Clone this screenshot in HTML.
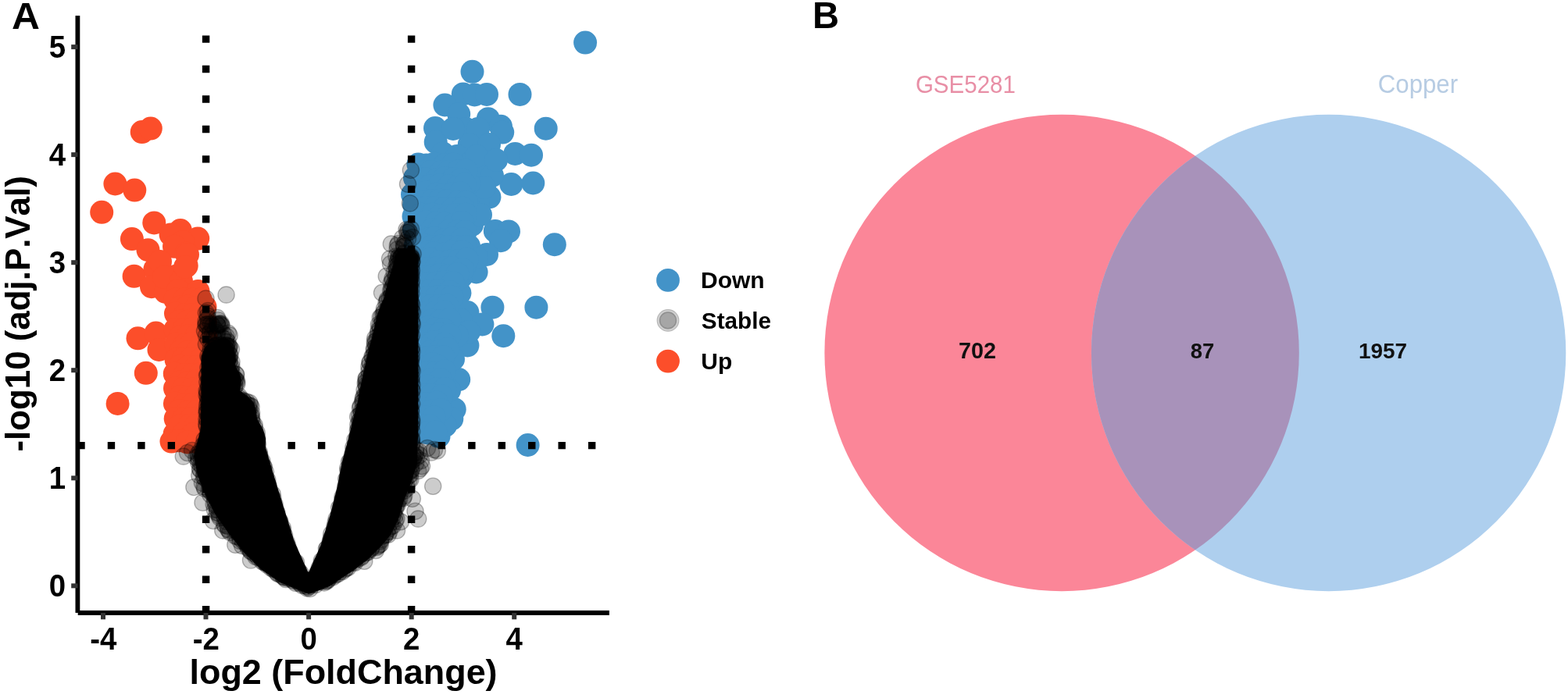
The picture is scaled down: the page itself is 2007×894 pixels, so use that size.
<!DOCTYPE html>
<html lang="en"><head><meta charset="utf-8"><title>Figure</title>
<style>html,body{margin:0;padding:0;background:#fff;overflow:hidden}svg{display:block}</style>
</head><body>
<svg width="2007" height="894" viewBox="0 0 2007 894" font-family="'Liberation Sans', sans-serif" style="font-kerning:none">
<rect width="2007" height="894" fill="#fff"/>
<defs><clipPath id="cl"><ellipse cx="1359.1" cy="452" rx="303.7" ry="305.2"/></clipPath></defs>
<ellipse cx="1359.1" cy="452" rx="303.7" ry="305.2" fill="#FB8698"/>
<ellipse cx="1700.6" cy="452" rx="303.7" ry="305.2" fill="#AECFEE"/>
<ellipse cx="1700.6" cy="452" rx="303.7" ry="305.2" fill="#A892BA" clip-path="url(#cl)"/>
<text transform="translate(1171.92 119.40) scale(1.0000 1.0500)" font-size="29.52" fill="#E88FA6">GSE5281</text>
<text transform="translate(1763.82 119.20) scale(1.0000 1.0500)" font-size="31.19" fill="#B7CCE3">Copper</text>
<text transform="translate(1226.96 458.60) scale(1.0000 1.0000)" font-size="28.76" font-weight="bold" fill="#111">702</text>
<text transform="translate(1523.73 458.60) scale(1.0000 1.0000)" font-size="27.49" font-weight="bold" fill="#111">87</text>
<text transform="translate(1739.04 458.60) scale(1.0000 1.0000)" font-size="27.91" font-weight="bold" fill="#111">1957</text>
<g fill="#FC4E2A">
<circle cx="181.7" cy="169.1" r="15"/>
<circle cx="192.8" cy="164.6" r="15"/>
<circle cx="147.4" cy="235.5" r="15"/>
<circle cx="172.3" cy="243.6" r="15"/>
<circle cx="130.2" cy="271.8" r="15"/>
<circle cx="197.3" cy="285.4" r="15"/>
<circle cx="168.9" cy="306.1" r="15"/>
<circle cx="230.9" cy="295" r="15"/>
<circle cx="218.6" cy="300.5" r="15"/>
<circle cx="253.2" cy="305.6" r="15"/>
<circle cx="234" cy="310" r="15"/>
<circle cx="189.5" cy="320.2" r="15"/>
<circle cx="223" cy="315.8" r="15"/>
<circle cx="238.7" cy="324.7" r="15"/>
<circle cx="171.6" cy="353.8" r="15"/>
<circle cx="198.4" cy="344.9" r="15"/>
<circle cx="238.7" cy="340.4" r="15"/>
<circle cx="194" cy="367.2" r="15"/>
<circle cx="225.3" cy="353.8" r="15"/>
<circle cx="211.9" cy="374" r="15"/>
<circle cx="176.5" cy="433.3" r="15"/>
<circle cx="199.6" cy="426.5" r="15"/>
<circle cx="203.5" cy="447.9" r="15"/>
<circle cx="186.8" cy="477.8" r="15"/>
<circle cx="150.6" cy="516.9" r="15"/>
<circle cx="205" cy="335" r="15"/>
<circle cx="210" cy="355" r="15"/>
<circle cx="240" cy="326" r="15"/>
<circle cx="232" cy="360" r="15"/>
<circle cx="228" cy="372" r="15"/>
<circle cx="262.5" cy="393" r="15"/>
<circle cx="237" cy="342" r="15"/>
<circle cx="253.5" cy="373" r="15"/>
<circle cx="224.4" cy="383.7" r="15"/>
<circle cx="236.5" cy="383.5" r="15"/>
<circle cx="246.5" cy="383.8" r="15"/>
<circle cx="256.7" cy="383.6" r="15"/>
<circle cx="230.3" cy="393.8" r="15"/>
<circle cx="240" cy="392.7" r="15"/>
<circle cx="251" cy="393.9" r="15"/>
<circle cx="225" cy="401.6" r="15"/>
<circle cx="236.7" cy="403.8" r="15"/>
<circle cx="246.9" cy="403" r="15"/>
<circle cx="256.7" cy="401.5" r="15"/>
<circle cx="230.1" cy="411.2" r="15"/>
<circle cx="240.3" cy="411.7" r="15"/>
<circle cx="250.9" cy="412.2" r="15"/>
<circle cx="262.9" cy="413.1" r="15"/>
<circle cx="224.5" cy="422.2" r="15"/>
<circle cx="235.5" cy="422.2" r="15"/>
<circle cx="246.4" cy="421.3" r="15"/>
<circle cx="258.7" cy="423" r="15"/>
<circle cx="230.8" cy="431.9" r="15"/>
<circle cx="240.6" cy="430.8" r="15"/>
<circle cx="251.5" cy="430.4" r="15"/>
<circle cx="263.6" cy="431.2" r="15"/>
<circle cx="225.3" cy="440.7" r="15"/>
<circle cx="236.6" cy="441.8" r="15"/>
<circle cx="245.3" cy="440.3" r="15"/>
<circle cx="258.5" cy="440.9" r="15"/>
<circle cx="231.2" cy="450.3" r="15"/>
<circle cx="240" cy="450.9" r="15"/>
<circle cx="252.7" cy="450" r="15"/>
<circle cx="262" cy="450.2" r="15"/>
<circle cx="225.6" cy="460.7" r="15"/>
<circle cx="234.6" cy="459.5" r="15"/>
<circle cx="245.5" cy="459.1" r="15"/>
<circle cx="258.2" cy="459.4" r="15"/>
<circle cx="230.1" cy="469.6" r="15"/>
<circle cx="240.3" cy="470.3" r="15"/>
<circle cx="251.1" cy="470" r="15"/>
<circle cx="262.1" cy="469.5" r="15"/>
<circle cx="223.8" cy="478.7" r="15"/>
<circle cx="236.6" cy="480" r="15"/>
<circle cx="246" cy="480.2" r="15"/>
<circle cx="256.8" cy="479" r="15"/>
<circle cx="230.9" cy="489.2" r="15"/>
<circle cx="240" cy="490" r="15"/>
<circle cx="251.3" cy="488.3" r="15"/>
<circle cx="263.7" cy="488.4" r="15"/>
<circle cx="224" cy="497.4" r="15"/>
<circle cx="234.5" cy="498.6" r="15"/>
<circle cx="245.9" cy="498.7" r="15"/>
<circle cx="257.2" cy="498.3" r="15"/>
<circle cx="231.1" cy="507.9" r="15"/>
<circle cx="241.2" cy="508.9" r="15"/>
<circle cx="251.2" cy="507.1" r="15"/>
<circle cx="264" cy="508.7" r="15"/>
<circle cx="223.9" cy="516.8" r="15"/>
<circle cx="236.1" cy="518.6" r="15"/>
<circle cx="245.8" cy="518.6" r="15"/>
<circle cx="258.4" cy="517.8" r="15"/>
<circle cx="229.8" cy="526.2" r="15"/>
<circle cx="239.9" cy="528.2" r="15"/>
<circle cx="251.4" cy="527.6" r="15"/>
<circle cx="262.4" cy="527.9" r="15"/>
<circle cx="224.7" cy="536.2" r="15"/>
<circle cx="234.7" cy="537.2" r="15"/>
<circle cx="245.5" cy="536" r="15"/>
<circle cx="257.6" cy="537.5" r="15"/>
<circle cx="230.3" cy="545.7" r="15"/>
<circle cx="242" cy="545.5" r="15"/>
<circle cx="250.8" cy="545.7" r="15"/>
<circle cx="262.9" cy="545.2" r="15"/>
<circle cx="223.7" cy="555.5" r="15"/>
<circle cx="235.7" cy="554.9" r="15"/>
<circle cx="246.2" cy="556.8" r="15"/>
<circle cx="258.7" cy="556.2" r="15"/>
<circle cx="219.5" cy="565.6" r="15"/>
<circle cx="229.1" cy="564.3" r="15"/>
<circle cx="239.8" cy="566.4" r="15"/>
<circle cx="252.5" cy="566.5" r="15"/>
<circle cx="261.9" cy="565.7" r="15"/>
</g>
<g fill="#4393C8">
<circle cx="749.1" cy="54.6" r="15"/>
<circle cx="604.5" cy="91.8" r="15"/>
<circle cx="665.5" cy="120.9" r="15"/>
<circle cx="592.8" cy="120.4" r="15"/>
<circle cx="607.4" cy="121.5" r="15"/>
<circle cx="623" cy="120.9" r="15"/>
<circle cx="569.4" cy="134.5" r="15"/>
<circle cx="587.2" cy="146.1" r="15"/>
<circle cx="624.8" cy="152.2" r="15"/>
<circle cx="640.9" cy="161.8" r="15"/>
<circle cx="557" cy="164" r="15"/>
<circle cx="596.2" cy="165.1" r="15"/>
<circle cx="611.9" cy="165" r="15"/>
<circle cx="698.7" cy="164.7" r="15"/>
<circle cx="643.2" cy="169.6" r="15"/>
<circle cx="557.7" cy="181.9" r="15"/>
<circle cx="600.7" cy="185.3" r="15"/>
<circle cx="626" cy="185" r="15"/>
<circle cx="659.3" cy="196.9" r="15"/>
<circle cx="680" cy="198.7" r="15"/>
<circle cx="567" cy="196.5" r="15"/>
<circle cx="540" cy="214" r="15"/>
<circle cx="654.4" cy="236" r="15"/>
<circle cx="682.3" cy="234.5" r="15"/>
<circle cx="709.8" cy="313.2" r="15"/>
<circle cx="633.8" cy="295.9" r="15"/>
<circle cx="651" cy="296.4" r="15"/>
<circle cx="641" cy="308.2" r="15"/>
<circle cx="626.4" cy="252.3" r="15"/>
<circle cx="611.9" cy="260" r="15"/>
<circle cx="604" cy="288" r="15"/>
<circle cx="623" cy="326" r="15"/>
<circle cx="609.6" cy="348.5" r="15"/>
<circle cx="588.4" cy="375.3" r="15"/>
<circle cx="630.4" cy="393.7" r="15"/>
<circle cx="686.4" cy="393.7" r="15"/>
<circle cx="598.4" cy="400" r="15"/>
<circle cx="617.4" cy="415.5" r="15"/>
<circle cx="644.3" cy="430.2" r="15"/>
<circle cx="598.4" cy="442.5" r="15"/>
<circle cx="587.2" cy="486.1" r="15"/>
<circle cx="581.7" cy="524.2" r="15"/>
<circle cx="578.3" cy="536.5" r="15"/>
<circle cx="561.5" cy="558.8" r="15"/>
<circle cx="675.6" cy="570" r="15"/>
<circle cx="580" cy="165" r="15"/>
<circle cx="585" cy="200" r="15"/>
<circle cx="600" cy="210" r="15"/>
<circle cx="615" cy="215" r="15"/>
<circle cx="630" cy="225" r="15"/>
<circle cx="620" cy="240" r="15"/>
<circle cx="600" cy="235" r="15"/>
<circle cx="580" cy="225" r="15"/>
<circle cx="610" cy="200" r="15"/>
<circle cx="635" cy="205" r="15"/>
<circle cx="590" cy="250" r="15"/>
<circle cx="600" cy="265" r="15"/>
<circle cx="615" cy="275" r="15"/>
<circle cx="590" cy="300" r="15"/>
<circle cx="600" cy="315" r="15"/>
<circle cx="610" cy="330" r="15"/>
<circle cx="595" cy="340" r="15"/>
<circle cx="590" cy="355" r="15"/>
<circle cx="590" cy="410" r="15"/>
<circle cx="600" cy="425" r="15"/>
<circle cx="585" cy="430" r="15"/>
<circle cx="580" cy="460" r="15"/>
<circle cx="575" cy="500" r="15"/>
<circle cx="570" cy="545" r="15"/>
<circle cx="528" cy="249" r="15"/>
<circle cx="529.5" cy="277" r="15"/>
<circle cx="531" cy="228" r="15"/>
<circle cx="530" cy="262" r="15"/>
<circle cx="535.4" cy="210.5" r="15"/>
<circle cx="545.8" cy="211.6" r="15"/>
<circle cx="555.8" cy="209.8" r="15"/>
<circle cx="569.4" cy="211.2" r="15"/>
<circle cx="580.4" cy="210.4" r="15"/>
<circle cx="542.2" cy="220.8" r="15"/>
<circle cx="551.4" cy="219.9" r="15"/>
<circle cx="564.6" cy="220.6" r="15"/>
<circle cx="573.7" cy="220.3" r="15"/>
<circle cx="586.5" cy="219.4" r="15"/>
<circle cx="596.5" cy="218.7" r="15"/>
<circle cx="535.8" cy="229.1" r="15"/>
<circle cx="544.8" cy="229.3" r="15"/>
<circle cx="559.5" cy="230.2" r="15"/>
<circle cx="569.4" cy="228.3" r="15"/>
<circle cx="580.4" cy="229" r="15"/>
<circle cx="590.3" cy="230.1" r="15"/>
<circle cx="539.3" cy="239.3" r="15"/>
<circle cx="550.1" cy="238.7" r="15"/>
<circle cx="562.9" cy="237.2" r="15"/>
<circle cx="574.8" cy="238.3" r="15"/>
<circle cx="585.5" cy="240" r="15"/>
<circle cx="595" cy="236.3" r="15"/>
<circle cx="534.7" cy="248.6" r="15"/>
<circle cx="545.3" cy="246.5" r="15"/>
<circle cx="559.1" cy="248.5" r="15"/>
<circle cx="568.3" cy="249.4" r="15"/>
<circle cx="578.8" cy="248.5" r="15"/>
<circle cx="589.3" cy="247.6" r="15"/>
<circle cx="542.2" cy="259.1" r="15"/>
<circle cx="553.5" cy="257" r="15"/>
<circle cx="563.3" cy="256.7" r="15"/>
<circle cx="572.5" cy="257.4" r="15"/>
<circle cx="586.3" cy="258.8" r="15"/>
<circle cx="596.8" cy="259.2" r="15"/>
<circle cx="534.6" cy="265.7" r="15"/>
<circle cx="546.3" cy="266.1" r="15"/>
<circle cx="556.4" cy="266.6" r="15"/>
<circle cx="569" cy="267" r="15"/>
<circle cx="578.8" cy="268.3" r="15"/>
<circle cx="592.4" cy="266.8" r="15"/>
<circle cx="539.3" cy="274.7" r="15"/>
<circle cx="553.5" cy="274.7" r="15"/>
<circle cx="563.8" cy="276.8" r="15"/>
<circle cx="573.2" cy="277.7" r="15"/>
<circle cx="583.1" cy="275.1" r="15"/>
<circle cx="595.8" cy="274.7" r="15"/>
<circle cx="536.8" cy="285.1" r="15"/>
<circle cx="545.1" cy="284.3" r="15"/>
<circle cx="558" cy="285.9" r="15"/>
<circle cx="569" cy="286.8" r="15"/>
<circle cx="580.7" cy="288" r="15"/>
<circle cx="591.2" cy="284.9" r="15"/>
<circle cx="529.9" cy="294.4" r="15"/>
<circle cx="539" cy="295.6" r="15"/>
<circle cx="552.9" cy="294.4" r="15"/>
<circle cx="562.1" cy="295.1" r="15"/>
<circle cx="574.8" cy="295.8" r="15"/>
<circle cx="585.5" cy="296.7" r="15"/>
<circle cx="595.6" cy="296.9" r="15"/>
<circle cx="537.1" cy="303.6" r="15"/>
<circle cx="548.2" cy="306.2" r="15"/>
<circle cx="556" cy="305.1" r="15"/>
<circle cx="569" cy="306.9" r="15"/>
<circle cx="579" cy="305.5" r="15"/>
<circle cx="592" cy="306.5" r="15"/>
<circle cx="531.8" cy="314.7" r="15"/>
<circle cx="541.6" cy="313.7" r="15"/>
<circle cx="552.9" cy="316.1" r="15"/>
<circle cx="563.6" cy="315.7" r="15"/>
<circle cx="572.9" cy="316.4" r="15"/>
<circle cx="586.9" cy="316.7" r="15"/>
<circle cx="596.1" cy="316" r="15"/>
<circle cx="534.8" cy="326" r="15"/>
<circle cx="547.9" cy="323.8" r="15"/>
<circle cx="555.8" cy="324.2" r="15"/>
<circle cx="568.7" cy="325.5" r="15"/>
<circle cx="579.4" cy="322.5" r="15"/>
<circle cx="591.7" cy="322.7" r="15"/>
<circle cx="531.2" cy="332.7" r="15"/>
<circle cx="540.3" cy="335.1" r="15"/>
<circle cx="550.6" cy="332.6" r="15"/>
<circle cx="563.1" cy="334.9" r="15"/>
<circle cx="575.4" cy="334.7" r="15"/>
<circle cx="586.8" cy="334" r="15"/>
<circle cx="597.8" cy="332.3" r="15"/>
<circle cx="534.4" cy="343.7" r="15"/>
<circle cx="545.7" cy="344.5" r="15"/>
<circle cx="558.1" cy="343.6" r="15"/>
<circle cx="569.9" cy="343.8" r="15"/>
<circle cx="578.7" cy="343.1" r="15"/>
<circle cx="591.9" cy="345.2" r="15"/>
<circle cx="539.8" cy="354.5" r="15"/>
<circle cx="553.9" cy="353.2" r="15"/>
<circle cx="563.3" cy="351.9" r="15"/>
<circle cx="574.1" cy="353.1" r="15"/>
<circle cx="585.4" cy="351.2" r="15"/>
<circle cx="537.4" cy="362.8" r="15"/>
<circle cx="546.1" cy="363.9" r="15"/>
<circle cx="557.8" cy="362.7" r="15"/>
<circle cx="569.3" cy="361" r="15"/>
<circle cx="579.7" cy="362.3" r="15"/>
<circle cx="542.8" cy="374" r="15"/>
<circle cx="551.1" cy="372.2" r="15"/>
<circle cx="561.5" cy="372" r="15"/>
<circle cx="575.3" cy="373.9" r="15"/>
<circle cx="535.4" cy="381.1" r="15"/>
<circle cx="545.3" cy="382.3" r="15"/>
<circle cx="559.2" cy="380.3" r="15"/>
<circle cx="569.6" cy="379.9" r="15"/>
<circle cx="578.3" cy="380.7" r="15"/>
<circle cx="541.7" cy="390.7" r="15"/>
<circle cx="551.4" cy="391.9" r="15"/>
<circle cx="561.4" cy="392.3" r="15"/>
<circle cx="572.5" cy="391.4" r="15"/>
<circle cx="534.5" cy="399.8" r="15"/>
<circle cx="546.6" cy="400.7" r="15"/>
<circle cx="557" cy="400.6" r="15"/>
<circle cx="568.6" cy="399.6" r="15"/>
<circle cx="539.8" cy="411.1" r="15"/>
<circle cx="552.6" cy="410.7" r="15"/>
<circle cx="564.4" cy="411" r="15"/>
<circle cx="575.4" cy="409.5" r="15"/>
<circle cx="536.5" cy="421.4" r="15"/>
<circle cx="548.1" cy="419.4" r="15"/>
<circle cx="556.8" cy="421.8" r="15"/>
<circle cx="567.4" cy="422.1" r="15"/>
<circle cx="542.6" cy="428.2" r="15"/>
<circle cx="551" cy="430.6" r="15"/>
<circle cx="562" cy="428.1" r="15"/>
<circle cx="575.3" cy="429.4" r="15"/>
<circle cx="536.7" cy="437.8" r="15"/>
<circle cx="546.1" cy="440" r="15"/>
<circle cx="555.6" cy="438.1" r="15"/>
<circle cx="569.2" cy="440.9" r="15"/>
<circle cx="542.9" cy="447.3" r="15"/>
<circle cx="552" cy="449.9" r="15"/>
<circle cx="563" cy="449.6" r="15"/>
<circle cx="572.8" cy="447.1" r="15"/>
<circle cx="533.9" cy="456.5" r="15"/>
<circle cx="546.7" cy="458.4" r="15"/>
<circle cx="557.8" cy="457" r="15"/>
<circle cx="567.2" cy="457.2" r="15"/>
<circle cx="542.4" cy="469.9" r="15"/>
<circle cx="553.7" cy="466.3" r="15"/>
<circle cx="561.2" cy="469.8" r="15"/>
<circle cx="535.3" cy="478.6" r="15"/>
<circle cx="545.8" cy="477.4" r="15"/>
<circle cx="557.6" cy="477.3" r="15"/>
<circle cx="568.9" cy="475.6" r="15"/>
<circle cx="541.8" cy="488.5" r="15"/>
<circle cx="550.7" cy="486.9" r="15"/>
<circle cx="564" cy="486.7" r="15"/>
<circle cx="534.3" cy="495.3" r="15"/>
<circle cx="546.6" cy="494.7" r="15"/>
<circle cx="559.1" cy="497.9" r="15"/>
<circle cx="569.3" cy="498.1" r="15"/>
<circle cx="541.5" cy="505.9" r="15"/>
<circle cx="552.4" cy="506.3" r="15"/>
<circle cx="564.9" cy="507.5" r="15"/>
<circle cx="534.5" cy="517.5" r="15"/>
<circle cx="547.5" cy="516.9" r="15"/>
<circle cx="558.8" cy="515.4" r="15"/>
<circle cx="542.6" cy="526.9" r="15"/>
<circle cx="552.8" cy="526.4" r="15"/>
<circle cx="564.1" cy="525" r="15"/>
<circle cx="536.4" cy="533.2" r="15"/>
<circle cx="545.9" cy="534.8" r="15"/>
<circle cx="555.5" cy="534.4" r="15"/>
<circle cx="541.6" cy="545" r="15"/>
<circle cx="550.9" cy="546.3" r="15"/>
<circle cx="536.2" cy="553.4" r="15"/>
<circle cx="547.1" cy="554.4" r="15"/>
<circle cx="557.6" cy="553.6" r="15"/>
</g>
<path d="M258 456.2 L257 550 L257 550.1 L257 550.2 L257 550.3 L253 565.2 L248.2 584.6 L253 608.7 L262.9 633.4 L275.1 657.9 L292.3 682.4 L311.7 707 L333.9 729 L358.5 746.1 L382.9 756.1 L395 760.7 L421.5 751.1 L450.9 731.5 L470.5 716.7 L487.8 699.6 L500 685 L509.7 665.4 L517 640.9 L517.1 640.8 L526.9 616.3 L534.2 591.9 L534.2 572.3 L534.2 572.2 L535 560 L535 326.4 L529.6 321 L512.4 321 L506.9 326.5 L503 340.3 L503 340.3 L497 359.3 L492 380.2 L492 380.3 L491.9 380.4 L483 402.3 L478 425.2 L478 425.3 L472 447.2 L467 470.2 L467 470.2 L462 492.2 L458 514.2 L458 514.3 L452 537.2 L445 565.2 L445 565.3 L437.8 592.2 L431.6 624.2 L431.6 624.2 L423 658.6 L423 658.7 L410.7 698.1 L410.6 698.2 L395.7 731.9 L395.7 732 L395.6 732.1 L395.6 732.2 L395.5 732.2 L395.4 732.3 L395.3 732.4 L395.2 732.4 L395.1 732.4 L395 732.5 L395 732.5 L394.9 732.5 L394.8 732.5 L394.7 732.5 L394.6 732.5 L394.5 732.4 L394.4 732.4 L394.3 732.4 L394.2 732.3 L394.1 732.2 L394 732.2 L394 732.1 L393.9 732 L393.9 731.9 L376.7 693.4 L376.6 693.3 L364.3 653.8 L364.3 653.8 L354.4 621.8 L354.4 621.8 L347 597.3 L347 597.3 L339.7 572.3 L339.7 572.2 L339.7 572.1 L339.7 572 L340 562.1 L337.1 550.4 L329.3 537.5 L329.3 537.4 L329.3 537.3 L329.2 537.2 L329.2 537.1 L327.7 526.2 L324.6 515.5 L317 507.8 L307.7 500.8 L307.6 500.7 L307.6 500.7 L307.5 500.6 L307.4 500.5 L307.4 500.4 L307.4 500.3 L307.3 500.3 L307.3 500.2 L307.3 500.1 L307.3 500 L307.3 499.9 L309 487.1 L307.1 480.3 L301.1 467.4 L301.1 467.3 L301 467.2 L301 467.2 L301 467.1 L301 467 L301 466.9 L301 466.8 L301 466.7 L302.6 462 L300 450.3 L295.3 440.8 L284.8 436 L270.4 438 L262.8 444.6Z" fill="#000"/>
<g fill="#000" fill-opacity="0.2" stroke="#000" stroke-opacity="0.28" stroke-width="1.3">
<circle cx="328.8" cy="554.3" r="10.6"/>
<circle cx="329.3" cy="560.5" r="10.6"/>
<circle cx="329.3" cy="564" r="10.6"/>
<circle cx="330" cy="569" r="10.6"/>
<circle cx="331.9" cy="579.1" r="10.6"/>
<circle cx="332.4" cy="583.2" r="10.6"/>
<circle cx="335.4" cy="590.3" r="10.6"/>
<circle cx="337.3" cy="597" r="10.6"/>
<circle cx="338" cy="598.7" r="10.6"/>
<circle cx="340" cy="604.6" r="10.6"/>
<circle cx="342.4" cy="614.6" r="10.6"/>
<circle cx="343.5" cy="621.4" r="10.6"/>
<circle cx="343.2" cy="622.5" r="10.6"/>
<circle cx="348.7" cy="632.8" r="10.6"/>
<circle cx="349.6" cy="638.5" r="10.6"/>
<circle cx="349.3" cy="642.2" r="10.6"/>
<circle cx="351.7" cy="646.3" r="10.6"/>
<circle cx="354.3" cy="656.1" r="10.6"/>
<circle cx="354.6" cy="659.4" r="10.6"/>
<circle cx="357.9" cy="666.8" r="10.6"/>
<circle cx="358.4" cy="668.5" r="10.6"/>
<circle cx="361.8" cy="675.9" r="10.6"/>
<circle cx="362.1" cy="679.6" r="10.6"/>
<circle cx="364.2" cy="685.6" r="10.6"/>
<circle cx="366.9" cy="694.5" r="10.6"/>
<circle cx="368.3" cy="699.1" r="10.6"/>
<circle cx="370.7" cy="705.7" r="10.6"/>
<circle cx="372.9" cy="712" r="10.6"/>
<circle cx="377" cy="719.5" r="10.6"/>
<circle cx="379.1" cy="720.4" r="10.6"/>
<circle cx="381.7" cy="730.2" r="10.6"/>
<circle cx="384.4" cy="733.8" r="10.6"/>
<circle cx="405.7" cy="734.5" r="10.6"/>
<circle cx="408.7" cy="727.3" r="10.6"/>
<circle cx="411.6" cy="721.6" r="10.6"/>
<circle cx="411.8" cy="718" r="10.6"/>
<circle cx="417.7" cy="708.9" r="10.6"/>
<circle cx="417.9" cy="703" r="10.6"/>
<circle cx="418.9" cy="702.1" r="10.6"/>
<circle cx="422.6" cy="693.7" r="10.6"/>
<circle cx="423.6" cy="689.7" r="10.6"/>
<circle cx="424.2" cy="683.8" r="10.6"/>
<circle cx="428.2" cy="675" r="10.6"/>
<circle cx="429.5" cy="669.4" r="10.6"/>
<circle cx="430.6" cy="664.4" r="10.6"/>
<circle cx="433.5" cy="659.2" r="10.6"/>
<circle cx="434.1" cy="650.1" r="10.6"/>
<circle cx="436.3" cy="648.9" r="10.6"/>
<circle cx="438.3" cy="640.1" r="10.6"/>
<circle cx="438.4" cy="636.5" r="10.6"/>
<circle cx="440.8" cy="630.6" r="10.6"/>
<circle cx="442" cy="623.5" r="10.6"/>
<circle cx="443.1" cy="613.8" r="10.6"/>
<circle cx="444.8" cy="610.7" r="10.6"/>
<circle cx="445.5" cy="602.4" r="10.6"/>
<circle cx="445.2" cy="599.6" r="10.6"/>
<circle cx="447" cy="591.5" r="10.6"/>
<circle cx="448.5" cy="590.6" r="10.6"/>
<circle cx="450.9" cy="582.5" r="10.6"/>
<circle cx="452.4" cy="577.8" r="10.6"/>
<circle cx="452.3" cy="573" r="10.6"/>
<circle cx="454.4" cy="563.5" r="10.6"/>
<circle cx="456.9" cy="560.2" r="10.6"/>
<circle cx="457.8" cy="551.8" r="10.6"/>
<circle cx="458.6" cy="549.3" r="10.6"/>
<circle cx="475.3" cy="701.5" r="10.6"/>
<circle cx="474.7" cy="703" r="10.6"/>
<circle cx="471" cy="704.9" r="10.6"/>
<circle cx="470.8" cy="707.2" r="10.6"/>
<circle cx="468.1" cy="708.3" r="10.6"/>
<circle cx="463.4" cy="708.8" r="10.6"/>
<circle cx="463.3" cy="712.5" r="10.6"/>
<circle cx="462.1" cy="714.1" r="10.6"/>
<circle cx="457.7" cy="716.2" r="10.6"/>
<circle cx="454.8" cy="716.4" r="10.6"/>
<circle cx="453.9" cy="721" r="10.6"/>
<circle cx="451.9" cy="720.4" r="10.6"/>
<circle cx="448.8" cy="720" r="10.6"/>
<circle cx="446.1" cy="722.6" r="10.6"/>
<circle cx="445.4" cy="727" r="10.6"/>
<circle cx="442.8" cy="727.8" r="10.6"/>
<circle cx="441.4" cy="729.2" r="10.6"/>
<circle cx="437.8" cy="732.2" r="10.6"/>
<circle cx="435.1" cy="732" r="10.6"/>
<circle cx="432.7" cy="735.1" r="10.6"/>
<circle cx="429.5" cy="736.6" r="10.6"/>
<circle cx="425.9" cy="736.7" r="10.6"/>
<circle cx="426" cy="739.2" r="10.6"/>
<circle cx="421.9" cy="739.2" r="10.6"/>
<circle cx="420" cy="742.3" r="10.6"/>
<circle cx="418.5" cy="744.2" r="10.6"/>
<circle cx="417.1" cy="744.2" r="10.6"/>
<circle cx="414.9" cy="746.4" r="10.6"/>
<circle cx="411.8" cy="744.7" r="10.6"/>
<circle cx="407.1" cy="745.5" r="10.6"/>
<circle cx="403.9" cy="749.1" r="10.6"/>
<circle cx="401" cy="747.2" r="10.6"/>
<circle cx="399.8" cy="748.8" r="10.6"/>
<circle cx="395.3" cy="749.1" r="10.6"/>
<circle cx="393.1" cy="753.4" r="10.6"/>
<circle cx="396.7" cy="754" r="10.6"/>
<circle cx="394.9" cy="751.8" r="10.6"/>
<circle cx="393.1" cy="751.2" r="10.6"/>
<circle cx="389.8" cy="749.4" r="10.6"/>
<circle cx="386.6" cy="749.8" r="10.6"/>
<circle cx="384.1" cy="747.3" r="10.6"/>
<circle cx="382.3" cy="745.6" r="10.6"/>
<circle cx="378.4" cy="746.8" r="10.6"/>
<circle cx="375.9" cy="744.1" r="10.6"/>
<circle cx="373.9" cy="742.6" r="10.6"/>
<circle cx="369.5" cy="740.9" r="10.6"/>
<circle cx="365.9" cy="742" r="10.6"/>
<circle cx="364.5" cy="739.8" r="10.6"/>
<circle cx="362.7" cy="738.9" r="10.6"/>
<circle cx="362.2" cy="738.1" r="10.6"/>
<circle cx="358.4" cy="735.5" r="10.6"/>
<circle cx="356" cy="735.1" r="10.6"/>
<circle cx="354.5" cy="733.5" r="10.6"/>
<circle cx="350.5" cy="729.5" r="10.6"/>
<circle cx="349.8" cy="728.5" r="10.6"/>
<circle cx="347" cy="727.6" r="10.6"/>
<circle cx="344.8" cy="723.4" r="10.6"/>
<circle cx="341.9" cy="723.5" r="10.6"/>
<circle cx="340.1" cy="721.1" r="10.6"/>
<circle cx="338.2" cy="720.2" r="10.6"/>
<circle cx="335.9" cy="719.2" r="10.6"/>
<circle cx="335.4" cy="716" r="10.6"/>
<circle cx="330.5" cy="714.1" r="10.6"/>
<circle cx="327.2" cy="713" r="10.6"/>
<circle cx="328.2" cy="711" r="10.6"/>
<circle cx="325.3" cy="709" r="10.6"/>
<circle cx="321.1" cy="706.2" r="10.6"/>
<circle cx="320.8" cy="705.5" r="10.6"/>
<circle cx="317.7" cy="702.3" r="10.6"/>
<circle cx="318.8" cy="701.5" r="10.6"/>
<circle cx="532.3" cy="576.1" r="10.6"/>
<circle cx="532.2" cy="579.7" r="10.6"/>
<circle cx="528" cy="581.5" r="10.6"/>
<circle cx="530.8" cy="583.7" r="10.6"/>
<circle cx="529.5" cy="585.5" r="10.6"/>
<circle cx="528.6" cy="588.7" r="10.6"/>
<circle cx="526.3" cy="591.1" r="10.6"/>
<circle cx="532.1" cy="593.5" r="10.6"/>
<circle cx="523.6" cy="593.5" r="10.6"/>
<circle cx="526.2" cy="595.9" r="10.6"/>
<circle cx="526.5" cy="601.3" r="10.6"/>
<circle cx="526" cy="602.9" r="10.6"/>
<circle cx="523.6" cy="604" r="10.6"/>
<circle cx="525" cy="608" r="10.6"/>
<circle cx="522.7" cy="609.7" r="10.6"/>
<circle cx="525.5" cy="614" r="10.6"/>
<circle cx="523.6" cy="614.3" r="10.6"/>
<circle cx="518.4" cy="615.1" r="10.6"/>
<circle cx="516.8" cy="617.7" r="10.6"/>
<circle cx="520.4" cy="621.9" r="10.6"/>
<circle cx="520.7" cy="625.6" r="10.6"/>
<circle cx="513.6" cy="626.4" r="10.6"/>
<circle cx="517.3" cy="628.8" r="10.6"/>
<circle cx="512.2" cy="631" r="10.6"/>
<circle cx="517.2" cy="635.3" r="10.6"/>
<circle cx="516.1" cy="638" r="10.6"/>
<circle cx="511.2" cy="639" r="10.6"/>
<circle cx="509.4" cy="642.1" r="10.6"/>
<circle cx="507" cy="641.6" r="10.6"/>
<circle cx="508.6" cy="646.8" r="10.6"/>
<circle cx="507.1" cy="647" r="10.6"/>
<circle cx="506.5" cy="650.7" r="10.6"/>
<circle cx="503.4" cy="654" r="10.6"/>
<circle cx="504.4" cy="654.6" r="10.6"/>
<circle cx="503.7" cy="658" r="10.6"/>
<circle cx="505.4" cy="661.1" r="10.6"/>
<circle cx="507.4" cy="664.3" r="10.6"/>
<circle cx="501.9" cy="663.8" r="10.6"/>
<circle cx="505.7" cy="667.8" r="10.6"/>
<circle cx="499.5" cy="669.9" r="10.6"/>
<circle cx="502.8" cy="673.6" r="10.6"/>
<circle cx="500.7" cy="674.2" r="10.6"/>
<circle cx="496.7" cy="677.5" r="10.6"/>
<circle cx="498.2" cy="681.1" r="10.6"/>
<circle cx="495.1" cy="681" r="10.6"/>
<circle cx="496.7" cy="684.9" r="10.6"/>
<circle cx="492.7" cy="685.1" r="10.6"/>
<circle cx="492.7" cy="685.6" r="10.6"/>
<circle cx="488.8" cy="687" r="10.6"/>
<circle cx="487.4" cy="691.1" r="10.6"/>
<circle cx="486.9" cy="693.2" r="10.6"/>
<circle cx="486.9" cy="696.9" r="10.6"/>
<circle cx="485.1" cy="698.2" r="10.6"/>
<circle cx="483.3" cy="699.5" r="10.6"/>
<circle cx="482.1" cy="701.1" r="10.6"/>
<circle cx="316.3" cy="697.8" r="10.6"/>
<circle cx="310.1" cy="699" r="10.6"/>
<circle cx="314.2" cy="694.8" r="10.6"/>
<circle cx="311.1" cy="692.9" r="10.6"/>
<circle cx="307.4" cy="692.9" r="10.6"/>
<circle cx="307.4" cy="689.1" r="10.6"/>
<circle cx="303.4" cy="687.1" r="10.6"/>
<circle cx="301.4" cy="686.7" r="10.6"/>
<circle cx="304.3" cy="682.1" r="10.6"/>
<circle cx="302.8" cy="680.4" r="10.6"/>
<circle cx="294.5" cy="681.8" r="10.6"/>
<circle cx="292.9" cy="679.2" r="10.6"/>
<circle cx="292.1" cy="677.7" r="10.6"/>
<circle cx="291.3" cy="673.7" r="10.6"/>
<circle cx="288.2" cy="673.1" r="10.6"/>
<circle cx="287.1" cy="671.4" r="10.6"/>
<circle cx="290" cy="668.1" r="10.6"/>
<circle cx="287.9" cy="663.4" r="10.6"/>
<circle cx="287.3" cy="661.1" r="10.6"/>
<circle cx="281.4" cy="663.1" r="10.6"/>
<circle cx="280.6" cy="660.4" r="10.6"/>
<circle cx="280.3" cy="657.5" r="10.6"/>
<circle cx="277.9" cy="656.5" r="10.6"/>
<circle cx="278.3" cy="653.1" r="10.6"/>
<circle cx="274.8" cy="652.6" r="10.6"/>
<circle cx="277.3" cy="648.4" r="10.6"/>
<circle cx="275.7" cy="645" r="10.6"/>
<circle cx="273.5" cy="645.6" r="10.6"/>
<circle cx="275.1" cy="641.3" r="10.6"/>
<circle cx="275.4" cy="636.5" r="10.6"/>
<circle cx="273.8" cy="634.3" r="10.6"/>
<circle cx="272.9" cy="632.2" r="10.6"/>
<circle cx="269.3" cy="633.5" r="10.6"/>
<circle cx="269.3" cy="629.6" r="10.6"/>
<circle cx="267.7" cy="627.4" r="10.6"/>
<circle cx="262.3" cy="625.9" r="10.6"/>
<circle cx="268.6" cy="621.7" r="10.6"/>
<circle cx="261.4" cy="623.2" r="10.6"/>
<circle cx="266.3" cy="616" r="10.6"/>
<circle cx="258.9" cy="618.6" r="10.6"/>
<circle cx="262.3" cy="612.2" r="10.6"/>
<circle cx="260.8" cy="610.8" r="10.6"/>
<circle cx="261.3" cy="607.1" r="10.6"/>
<circle cx="255.3" cy="608.9" r="10.6"/>
<circle cx="261.9" cy="603.5" r="10.6"/>
<circle cx="256.6" cy="601.7" r="10.6"/>
<circle cx="255.9" cy="600.6" r="10.6"/>
<circle cx="259.1" cy="598.1" r="10.6"/>
<circle cx="256.9" cy="595.2" r="10.6"/>
<circle cx="254.2" cy="592.4" r="10.6"/>
<circle cx="254.6" cy="589.3" r="10.6"/>
<circle cx="257.9" cy="587.2" r="10.6"/>
<circle cx="251.3" cy="586" r="10.6"/>
<circle cx="253.7" cy="585.5" r="10.6"/>
<circle cx="253.5" cy="581.4" r="10.6"/>
<circle cx="256.4" cy="580.9" r="10.6"/>
<circle cx="256" cy="578" r="10.6"/>
<circle cx="268.7" cy="458.6" r="10.6"/>
<circle cx="266.3" cy="456" r="10.6"/>
<circle cx="270.7" cy="453" r="10.6"/>
<circle cx="272.2" cy="450.2" r="10.6"/>
<circle cx="525.4" cy="329.4" r="10.6"/>
<circle cx="525.5" cy="332.3" r="10.6"/>
<circle cx="526.1" cy="328.3" r="10.6"/>
<circle cx="526.7" cy="330.5" r="10.6"/>
<circle cx="527.5" cy="334.7" r="10.6"/>
<circle cx="527.1" cy="335.6" r="10.6"/>
<circle cx="526" cy="340.3" r="10.6"/>
<circle cx="526.4" cy="341.9" r="10.6"/>
<circle cx="527" cy="346.4" r="10.6"/>
<circle cx="525.2" cy="349.1" r="10.6"/>
<circle cx="526.5" cy="351.1" r="10.6"/>
<circle cx="526.2" cy="354" r="10.6"/>
<circle cx="525.5" cy="356.7" r="10.6"/>
<circle cx="526.8" cy="360" r="10.6"/>
<circle cx="526.2" cy="364" r="10.6"/>
<circle cx="524.5" cy="366.1" r="10.6"/>
<circle cx="526.5" cy="369.1" r="10.6"/>
<circle cx="524.1" cy="373.4" r="10.6"/>
<circle cx="526.4" cy="376.1" r="10.6"/>
<circle cx="525" cy="378.7" r="10.6"/>
<circle cx="525.1" cy="380.6" r="10.6"/>
<circle cx="525.4" cy="385.6" r="10.6"/>
<circle cx="526.3" cy="387.7" r="10.6"/>
<circle cx="527.1" cy="390.7" r="10.6"/>
<circle cx="525.8" cy="394" r="10.6"/>
<circle cx="526.6" cy="397.7" r="10.6"/>
<circle cx="527.9" cy="399.9" r="10.6"/>
<circle cx="524.9" cy="402" r="10.6"/>
<circle cx="525.5" cy="404.5" r="10.6"/>
<circle cx="526.4" cy="407.4" r="10.6"/>
<circle cx="527.2" cy="412.7" r="10.6"/>
<circle cx="527.8" cy="415.5" r="10.6"/>
<circle cx="524.7" cy="417.5" r="10.6"/>
<circle cx="526.4" cy="421.2" r="10.6"/>
<circle cx="525.2" cy="423.5" r="10.6"/>
<circle cx="525" cy="427" r="10.6"/>
<circle cx="527" cy="429.5" r="10.6"/>
<circle cx="525.8" cy="432.8" r="10.6"/>
<circle cx="524.1" cy="435.3" r="10.6"/>
<circle cx="524.9" cy="437.1" r="10.6"/>
<circle cx="525.1" cy="440.7" r="10.6"/>
<circle cx="526.9" cy="445.6" r="10.6"/>
<circle cx="525.9" cy="447.4" r="10.6"/>
<circle cx="527.3" cy="450.2" r="10.6"/>
<circle cx="524.4" cy="453.6" r="10.6"/>
<circle cx="526.8" cy="456.7" r="10.6"/>
<circle cx="526.3" cy="460.1" r="10.6"/>
<circle cx="525.6" cy="461.2" r="10.6"/>
<circle cx="525.9" cy="465.1" r="10.6"/>
<circle cx="525.7" cy="469.7" r="10.6"/>
<circle cx="526.6" cy="472.6" r="10.6"/>
<circle cx="527.7" cy="475" r="10.6"/>
<circle cx="525.2" cy="476.6" r="10.6"/>
<circle cx="524.7" cy="480.8" r="10.6"/>
<circle cx="526.9" cy="482.9" r="10.6"/>
<circle cx="525.9" cy="485.8" r="10.6"/>
<circle cx="526.5" cy="487.8" r="10.6"/>
<circle cx="527.4" cy="492.7" r="10.6"/>
<circle cx="524.5" cy="494.7" r="10.6"/>
<circle cx="527" cy="499.5" r="10.6"/>
<circle cx="527.5" cy="500.3" r="10.6"/>
<circle cx="524.8" cy="503" r="10.6"/>
<circle cx="526.9" cy="507.9" r="10.6"/>
<circle cx="525.2" cy="510.2" r="10.6"/>
<circle cx="524.7" cy="511.8" r="10.6"/>
<circle cx="527.2" cy="517.3" r="10.6"/>
<circle cx="525.2" cy="519.8" r="10.6"/>
<circle cx="524.5" cy="521.7" r="10.6"/>
<circle cx="526.1" cy="524.4" r="10.6"/>
<circle cx="526.2" cy="527.7" r="10.6"/>
<circle cx="525.7" cy="532.2" r="10.6"/>
<circle cx="524.1" cy="534.5" r="10.6"/>
<circle cx="527.1" cy="536.4" r="10.6"/>
<circle cx="527.4" cy="540.6" r="10.6"/>
<circle cx="526.6" cy="544.6" r="10.6"/>
<circle cx="526.3" cy="546" r="10.6"/>
<circle cx="524.3" cy="550.2" r="10.6"/>
<circle cx="527.3" cy="552.7" r="10.6"/>
<circle cx="525.2" cy="554.8" r="10.6"/>
<circle cx="524.5" cy="557.4" r="10.6"/>
<circle cx="527" cy="561.8" r="10.6"/>
<circle cx="526.9" cy="563.2" r="10.6"/>
<circle cx="527.3" cy="567.3" r="10.6"/>
<circle cx="527.1" cy="570.2" r="10.6"/>
<circle cx="525" cy="574.2" r="10.6"/>
<circle cx="259.3" cy="577.3" r="10.6"/>
<circle cx="261.3" cy="573.7" r="10.6"/>
<circle cx="260" cy="570.1" r="10.6"/>
<circle cx="262.3" cy="568.8" r="10.6"/>
<circle cx="263.4" cy="566.5" r="10.6"/>
<circle cx="261.6" cy="563.1" r="10.6"/>
<circle cx="265.2" cy="559.6" r="10.6"/>
<circle cx="265.7" cy="556.2" r="10.6"/>
<circle cx="266.9" cy="550.3" r="10.6"/>
<circle cx="267.3" cy="549.3" r="10.6"/>
<circle cx="264.7" cy="546" r="10.6"/>
<circle cx="264.2" cy="543.3" r="10.6"/>
<circle cx="265.7" cy="537.8" r="10.6"/>
<circle cx="264.3" cy="537.1" r="10.6"/>
<circle cx="266.6" cy="531.9" r="10.6"/>
<circle cx="264.4" cy="528.6" r="10.6"/>
<circle cx="265.4" cy="528.1" r="10.6"/>
<circle cx="264.7" cy="524.8" r="10.6"/>
<circle cx="266.9" cy="521.8" r="10.6"/>
<circle cx="265" cy="518.9" r="10.6"/>
<circle cx="265.9" cy="514.8" r="10.6"/>
<circle cx="266.7" cy="513" r="10.6"/>
<circle cx="266" cy="508.9" r="10.6"/>
<circle cx="264.6" cy="506" r="10.6"/>
<circle cx="265.3" cy="502.6" r="10.6"/>
<circle cx="264.6" cy="500.4" r="10.6"/>
<circle cx="266.9" cy="495.8" r="10.6"/>
<circle cx="266.8" cy="494.2" r="10.6"/>
<circle cx="265.2" cy="489.6" r="10.6"/>
<circle cx="267.5" cy="488.3" r="10.6"/>
<circle cx="267.5" cy="485.3" r="10.6"/>
<circle cx="264.9" cy="480.7" r="10.6"/>
<circle cx="265.9" cy="479.6" r="10.6"/>
<circle cx="267.9" cy="475.2" r="10.6"/>
<circle cx="268.5" cy="472.3" r="10.6"/>
<circle cx="266.4" cy="470.9" r="10.6"/>
<circle cx="268" cy="465.9" r="10.6"/>
<circle cx="268.8" cy="465.1" r="10.6"/>
<circle cx="268.4" cy="460.2" r="10.6"/>
<circle cx="267.4" cy="458.3" r="10.6"/>
<circle cx="269.7" cy="449.5" r="10.6"/>
<circle cx="269.7" cy="445.1" r="10.6"/>
<circle cx="272.4" cy="446.4" r="10.6"/>
<circle cx="274.8" cy="446.2" r="10.6"/>
<circle cx="271.8" cy="445.9" r="10.6"/>
<circle cx="274" cy="443.6" r="10.6"/>
<circle cx="277.3" cy="442.3" r="10.6"/>
<circle cx="280.1" cy="446.3" r="10.6"/>
<circle cx="283.5" cy="442" r="10.6"/>
<circle cx="284.9" cy="444.6" r="10.6"/>
<circle cx="281.3" cy="444.9" r="10.6"/>
<circle cx="284.5" cy="444.2" r="10.6"/>
<circle cx="288.7" cy="442.2" r="10.6"/>
<circle cx="290.2" cy="442.9" r="10.6"/>
<circle cx="292.7" cy="445.9" r="10.6"/>
<circle cx="289.5" cy="447.4" r="10.6"/>
<circle cx="289.1" cy="447.8" r="10.6"/>
<circle cx="291.8" cy="449.9" r="10.6"/>
<circle cx="291.1" cy="453.7" r="10.6"/>
<circle cx="294" cy="454.4" r="10.6"/>
<circle cx="294.4" cy="455.3" r="10.6"/>
<circle cx="292.8" cy="458.3" r="10.6"/>
<circle cx="293.7" cy="461.2" r="10.6"/>
<circle cx="293.5" cy="463.1" r="10.6"/>
<circle cx="296.5" cy="463.5" r="10.6"/>
<circle cx="296.5" cy="469.6" r="10.6"/>
<circle cx="295.5" cy="471.3" r="10.6"/>
<circle cx="294.9" cy="474.8" r="10.6"/>
<circle cx="296.7" cy="478" r="10.6"/>
<circle cx="301.9" cy="479.6" r="10.6"/>
<circle cx="302.2" cy="479.8" r="10.6"/>
<circle cx="298.3" cy="483.7" r="10.6"/>
<circle cx="300.9" cy="486.3" r="10.6"/>
<circle cx="302.5" cy="486.7" r="10.6"/>
<circle cx="300.8" cy="486.3" r="10.6"/>
<circle cx="303.2" cy="489" r="10.6"/>
<circle cx="303.3" cy="491.7" r="10.6"/>
<circle cx="300.6" cy="494" r="10.6"/>
<circle cx="299.7" cy="496.7" r="10.6"/>
<circle cx="305.8" cy="507.2" r="10.6"/>
<circle cx="305.2" cy="509.3" r="10.6"/>
<circle cx="307.7" cy="512.9" r="10.6"/>
<circle cx="310.6" cy="512.6" r="10.6"/>
<circle cx="311.7" cy="514.3" r="10.6"/>
<circle cx="315.5" cy="514.6" r="10.6"/>
<circle cx="315.4" cy="517.7" r="10.6"/>
<circle cx="319.5" cy="516.1" r="10.6"/>
<circle cx="320.2" cy="519.2" r="10.6"/>
<circle cx="318.1" cy="519.4" r="10.6"/>
<circle cx="321.6" cy="520.9" r="10.6"/>
<circle cx="318.6" cy="523.4" r="10.6"/>
<circle cx="317.4" cy="528" r="10.6"/>
<circle cx="322.1" cy="528.6" r="10.6"/>
<circle cx="320.9" cy="530.5" r="10.6"/>
<circle cx="322.1" cy="533.8" r="10.6"/>
<circle cx="322" cy="536.8" r="10.6"/>
<circle cx="323" cy="540.6" r="10.6"/>
<circle cx="321.6" cy="545" r="10.6"/>
<circle cx="325.8" cy="544.5" r="10.6"/>
<circle cx="325.7" cy="547.7" r="10.6"/>
<circle cx="458.3" cy="543.7" r="10.6"/>
<circle cx="461.3" cy="542" r="10.6"/>
<circle cx="459.9" cy="539.4" r="10.6"/>
<circle cx="461.2" cy="537.9" r="10.6"/>
<circle cx="458.1" cy="533.8" r="10.6"/>
<circle cx="460.2" cy="532.1" r="10.6"/>
<circle cx="462.8" cy="530.1" r="10.6"/>
<circle cx="462.6" cy="526.9" r="10.6"/>
<circle cx="465" cy="524.6" r="10.6"/>
<circle cx="460.9" cy="522.7" r="10.6"/>
<circle cx="461.6" cy="520.3" r="10.6"/>
<circle cx="463.9" cy="515.2" r="10.6"/>
<circle cx="465.1" cy="514.2" r="10.6"/>
<circle cx="464.5" cy="511.1" r="10.6"/>
<circle cx="465.4" cy="508" r="10.6"/>
<circle cx="468.9" cy="505.9" r="10.6"/>
<circle cx="467.3" cy="505.2" r="10.6"/>
<circle cx="470" cy="502.8" r="10.6"/>
<circle cx="466.5" cy="499.6" r="10.6"/>
<circle cx="469.3" cy="495.6" r="10.6"/>
<circle cx="468.6" cy="493.4" r="10.6"/>
<circle cx="467.7" cy="490.9" r="10.6"/>
<circle cx="468.6" cy="488.6" r="10.6"/>
<circle cx="468.4" cy="485.3" r="10.6"/>
<circle cx="469.2" cy="484.3" r="10.6"/>
<circle cx="472.4" cy="481.3" r="10.6"/>
<circle cx="475.3" cy="480.7" r="10.6"/>
<circle cx="472.5" cy="475.2" r="10.6"/>
<circle cx="475.5" cy="475" r="10.6"/>
<circle cx="472.4" cy="469.4" r="10.6"/>
<circle cx="476.9" cy="468.3" r="10.6"/>
<circle cx="473.7" cy="464.5" r="10.6"/>
<circle cx="473.5" cy="463.9" r="10.6"/>
<circle cx="478.8" cy="462.1" r="10.6"/>
<circle cx="477" cy="457.3" r="10.6"/>
<circle cx="476.4" cy="456.6" r="10.6"/>
<circle cx="478.9" cy="454.1" r="10.6"/>
<circle cx="480.5" cy="450.6" r="10.6"/>
<circle cx="478.8" cy="448.7" r="10.6"/>
<circle cx="479" cy="446" r="10.6"/>
<circle cx="481.6" cy="444" r="10.6"/>
<circle cx="480.2" cy="440.3" r="10.6"/>
<circle cx="479.7" cy="437.8" r="10.6"/>
<circle cx="481.5" cy="437" r="10.6"/>
<circle cx="480.2" cy="433.1" r="10.6"/>
<circle cx="483.1" cy="432" r="10.6"/>
<circle cx="487.1" cy="427.8" r="10.6"/>
<circle cx="483.9" cy="426.6" r="10.6"/>
<circle cx="484.6" cy="423.1" r="10.6"/>
<circle cx="486.8" cy="421.6" r="10.6"/>
<circle cx="486.4" cy="417" r="10.6"/>
<circle cx="484.8" cy="415.7" r="10.6"/>
<circle cx="489.5" cy="414.5" r="10.6"/>
<circle cx="489.9" cy="411.4" r="10.6"/>
<circle cx="486.7" cy="406.5" r="10.6"/>
<circle cx="488.4" cy="405.8" r="10.6"/>
<circle cx="491.7" cy="404.1" r="10.6"/>
<circle cx="490.5" cy="402.1" r="10.6"/>
<circle cx="491.7" cy="399.6" r="10.6"/>
<circle cx="491.8" cy="395.7" r="10.6"/>
<circle cx="496.8" cy="394.8" r="10.6"/>
<circle cx="497.8" cy="393" r="10.6"/>
<circle cx="494.4" cy="387.9" r="10.6"/>
<circle cx="495.6" cy="385.4" r="10.6"/>
<circle cx="495.9" cy="383.3" r="10.6"/>
<circle cx="498.7" cy="381.7" r="10.6"/>
<circle cx="501.1" cy="378.2" r="10.6"/>
<circle cx="502.7" cy="377.6" r="10.6"/>
<circle cx="501.3" cy="372.8" r="10.6"/>
<circle cx="500" cy="372" r="10.6"/>
<circle cx="501.6" cy="369" r="10.6"/>
<circle cx="503.7" cy="365.1" r="10.6"/>
<circle cx="500.9" cy="362.1" r="10.6"/>
<circle cx="505.3" cy="362" r="10.6"/>
<circle cx="502.8" cy="359" r="10.6"/>
<circle cx="502.3" cy="356.9" r="10.6"/>
<circle cx="506.4" cy="354.5" r="10.6"/>
<circle cx="507.3" cy="352.1" r="10.6"/>
<circle cx="504.6" cy="348.8" r="10.6"/>
<circle cx="507.6" cy="346" r="10.6"/>
<circle cx="508.5" cy="344" r="10.6"/>
<circle cx="507.2" cy="341.3" r="10.6"/>
<circle cx="509.4" cy="339.2" r="10.6"/>
<circle cx="508.4" cy="336.7" r="10.6"/>
<circle cx="509.3" cy="333.2" r="10.6"/>
<circle cx="512.4" cy="330.4" r="10.6"/>
<circle cx="513.8" cy="329.2" r="10.6"/>
<circle cx="510.4" cy="329.6" r="10.6"/>
<circle cx="515.7" cy="328.5" r="10.6"/>
<circle cx="516" cy="326.2" r="10.6"/>
<circle cx="513.8" cy="328.3" r="10.6"/>
<circle cx="516.5" cy="330.4" r="10.6"/>
<circle cx="519.3" cy="329.7" r="10.6"/>
<circle cx="521.4" cy="328" r="10.6"/>
<circle cx="523.6" cy="328.8" r="10.6"/>
<circle cx="526.2" cy="330.3" r="10.6"/>
<circle cx="528.6" cy="325.2" r="10.6"/>
<circle cx="289.6" cy="377.6" r="10.6"/>
<circle cx="263.5" cy="382.4" r="10.6"/>
<circle cx="265.7" cy="404.7" r="10.6"/>
<circle cx="263.5" cy="411.5" r="10.6"/>
<circle cx="265.7" cy="418.2" r="10.6"/>
<circle cx="279.1" cy="410.3" r="10.6"/>
<circle cx="282.5" cy="415.9" r="10.6"/>
<circle cx="275.8" cy="422.6" r="10.6"/>
<circle cx="293.7" cy="429.4" r="10.6"/>
<circle cx="284.7" cy="432.7" r="10.6"/>
<circle cx="296" cy="447.2" r="10.6"/>
<circle cx="269" cy="427" r="10.6"/>
<circle cx="273.6" cy="432.7" r="10.6"/>
<circle cx="262" cy="424" r="10.6"/>
<circle cx="289" cy="438" r="10.6"/>
<circle cx="266" cy="398" r="10.6"/>
<circle cx="270" cy="415" r="10.6"/>
<circle cx="278" cy="426" r="10.6"/>
<circle cx="264" cy="430" r="10.6"/>
<circle cx="525.9" cy="217.9" r="10.6"/>
<circle cx="522" cy="235.8" r="10.6"/>
<circle cx="524.8" cy="260.4" r="10.6"/>
<circle cx="522.6" cy="295" r="10.6"/>
<circle cx="520.5" cy="294" r="10.6"/>
<circle cx="524" cy="297" r="10.6"/>
<circle cx="526" cy="293.5" r="10.6"/>
<circle cx="521.5" cy="298" r="10.6"/>
<circle cx="500.8" cy="312.4" r="10.6"/>
<circle cx="499" cy="331.5" r="10.6"/>
<circle cx="500" cy="338" r="10.6"/>
<circle cx="494.7" cy="353.8" r="10.6"/>
<circle cx="489" cy="375" r="10.6"/>
<circle cx="515" cy="305" r="10.6"/>
<circle cx="522" cy="306" r="10.6"/>
<circle cx="528" cy="304" r="10.6"/>
<circle cx="510" cy="312" r="10.6"/>
<circle cx="554.2" cy="622.8" r="10.6"/>
<circle cx="535.2" cy="664.6" r="10.6"/>
<circle cx="531.5" cy="654.8" r="10.6"/>
<circle cx="508" cy="679.4" r="10.6"/>
<circle cx="513" cy="668.3" r="10.6"/>
<circle cx="559.8" cy="577.2" r="10.6"/>
<circle cx="556" cy="576" r="10.6"/>
<circle cx="552" cy="579.5" r="10.6"/>
<circle cx="547" cy="574" r="10.6"/>
<circle cx="234.8" cy="584.6" r="10.6"/>
<circle cx="240" cy="580" r="10.6"/>
<circle cx="246" cy="577" r="10.6"/>
<circle cx="248.4" cy="624" r="10.6"/>
<circle cx="259.5" cy="643.7" r="10.6"/>
<circle cx="273" cy="667" r="10.6"/>
<circle cx="285.3" cy="679.4" r="10.6"/>
<circle cx="301.3" cy="697.8" r="10.6"/>
<circle cx="321" cy="717.5" r="10.6"/>
<circle cx="540" cy="597" r="10.6"/>
<circle cx="535.2" cy="603" r="10.6"/>
<circle cx="537" cy="583" r="10.6"/>
<circle cx="539" cy="590" r="10.6"/>
<circle cx="536" cy="578" r="10.6"/>
<circle cx="533" cy="586" r="10.6"/>
<circle cx="538" cy="600" r="10.6"/>
<circle cx="527.8" cy="638.8" r="10.6"/>
<circle cx="481" cy="705" r="10.6"/>
<circle cx="466.3" cy="718.7" r="10.6"/>
<circle cx="280.8" cy="415.4" r="10.6"/>
<circle cx="285.6" cy="427.8" r="10.6"/>
<circle cx="263.7" cy="416.6" r="10.6"/>
<circle cx="293.8" cy="444.3" r="10.6"/>
<circle cx="292" cy="426.8" r="10.6"/>
<circle cx="266.3" cy="415.2" r="10.6"/>
<circle cx="289.3" cy="435" r="10.6"/>
<circle cx="278.2" cy="416.4" r="10.6"/>
<circle cx="283.8" cy="417.2" r="10.6"/>
<circle cx="266.5" cy="434.6" r="10.6"/>
<circle cx="283.9" cy="442.4" r="10.6"/>
<circle cx="272.3" cy="417.5" r="10.6"/>
<circle cx="291.5" cy="437.9" r="10.6"/>
<circle cx="289.5" cy="430.6" r="10.6"/>
<circle cx="293" cy="443.7" r="10.6"/>
<circle cx="290.2" cy="442.6" r="10.6"/>
<circle cx="269.3" cy="425.1" r="10.6"/>
<circle cx="263.9" cy="441" r="10.6"/>
<circle cx="271.8" cy="428.4" r="10.6"/>
<circle cx="283" cy="414.4" r="10.6"/>
<circle cx="279.2" cy="417.5" r="10.6"/>
<circle cx="281.4" cy="414.5" r="10.6"/>
<circle cx="277.7" cy="415" r="10.6"/>
<circle cx="276.2" cy="443.1" r="10.6"/>
<circle cx="287.1" cy="444.4" r="10.6"/>
<circle cx="277.6" cy="428.8" r="10.6"/>
<circle cx="263.5" cy="415.4" r="10.6"/>
<circle cx="278" cy="407" r="10.6"/>
<circle cx="266.1" cy="408.1" r="10.6"/>
<circle cx="263.8" cy="400.6" r="10.6"/>
<circle cx="507.2" cy="328.2" r="10.6"/>
<circle cx="518" cy="329.1" r="10.6"/>
<circle cx="516.7" cy="313.5" r="10.6"/>
<circle cx="510.4" cy="328.5" r="10.6"/>
<circle cx="517.5" cy="324.2" r="10.6"/>
<circle cx="518.5" cy="311.1" r="10.6"/>
<circle cx="508.6" cy="319.5" r="10.6"/>
<circle cx="523.4" cy="330.8" r="10.6"/>
<circle cx="517.6" cy="315.7" r="10.6"/>
<circle cx="513.4" cy="330.5" r="10.6"/>
<circle cx="508.8" cy="314.5" r="10.6"/>
<circle cx="522.6" cy="329.2" r="10.6"/>
<circle cx="517.3" cy="315.4" r="10.6"/>
<circle cx="518.1" cy="330.1" r="10.6"/>
</g>
<g stroke="#000" stroke-width="9.4" stroke-dasharray="9.4 29.05" fill="none">
<path d="M263.6 45.4V784"/><path d="M526.6 45.4V784"/><path d="M99.3 570.6H780"/></g>
<rect x="96.5" y="20.1" width="5.8" height="764.8" fill="#000"/>
<rect x="99.7" y="781.9" width="680.2" height="6" fill="#000"/>
<g fill="#333">
<rect x="91.2" y="747.3" width="8.2" height="6"/>
<rect x="91.2" y="609.3" width="8.2" height="6"/>
<rect x="91.2" y="471.2" width="8.2" height="6"/>
<rect x="91.2" y="333.2" width="8.2" height="6"/>
<rect x="91.2" y="195.1" width="8.2" height="6"/>
<rect x="91.2" y="57.1" width="8.2" height="6"/>
<rect x="129" y="785" width="6" height="8.3"/>
<rect x="260.5" y="785" width="6" height="8.3"/>
<rect x="392.1" y="785" width="6" height="8.3"/>
<rect x="523.7" y="785" width="6" height="8.3"/>
<rect x="655.2" y="785" width="6" height="8.3"/>
</g>
<g font-size="38.4" font-weight="bold" fill="#000">
<text transform="translate(84.2 764.2) scale(1 1.04)" text-anchor="end">0</text>
<text transform="translate(84.2 626.2) scale(1 1.04)" text-anchor="end">1</text>
<text transform="translate(84.2 488.1) scale(1 1.04)" text-anchor="end">2</text>
<text transform="translate(84.2 350.1) scale(1 1.04)" text-anchor="end">3</text>
<text transform="translate(84.2 212) scale(1 1.04)" text-anchor="end">4</text>
<text transform="translate(84.2 74) scale(1 1.04)" text-anchor="end">5</text>
<text transform="translate(132.3 832) scale(1 1.04)" text-anchor="middle">-4</text>
<text transform="translate(263.8 832) scale(1 1.04)" text-anchor="middle">-2</text>
<text transform="translate(395.1 832) scale(1 1.04)" text-anchor="middle">0</text>
<text transform="translate(526.7 832) scale(1 1.04)" text-anchor="middle">2</text>
<text transform="translate(658.2 832) scale(1 1.04)" text-anchor="middle">4</text>
</g>
<text transform="translate(242.56 876.40) scale(1.0000 1.0000)" font-size="44.90" font-weight="bold" fill="#000">log2 (FoldChange)</text>
<text transform="translate(38.4 578.61) rotate(-90)" font-size="43.86" font-weight="bold">-log10 (adj.P.Val)</text>
<text transform="translate(14.96 36.90) scale(1.0329 1.0000)" font-size="48.20" font-weight="bold" fill="#000">A</text>
<text transform="translate(1040.04 36.10) scale(0.9797 1.0000)" font-size="48.20" font-weight="bold" fill="#000">B</text>
<circle cx="855" cy="358.9" r="14.9" fill="#4393C8"/>
<circle cx="855" cy="410.4" r="13.8" fill="#cfcfcf" stroke="#b9b9b9" stroke-width="1.2"/>
<circle cx="855" cy="410.4" r="10.4" fill="#a6a6a6" stroke="#8e8e8e" stroke-width="1.4"/>
<circle cx="855" cy="462.6" r="14.9" fill="#FC4E2A"/>
<text transform="translate(896.99 369.10) scale(1.0000 1.0000)" font-size="30.01" font-weight="bold" fill="#000">Down</text>
<text transform="translate(897.84 421.10) scale(1.0000 1.0000)" font-size="29.71" font-weight="bold" fill="#000">Stable</text>
<text transform="translate(897.30 472.90) scale(1.0000 1.0000)" font-size="29.95" font-weight="bold" fill="#000">Up</text>
</svg>
</body></html>
